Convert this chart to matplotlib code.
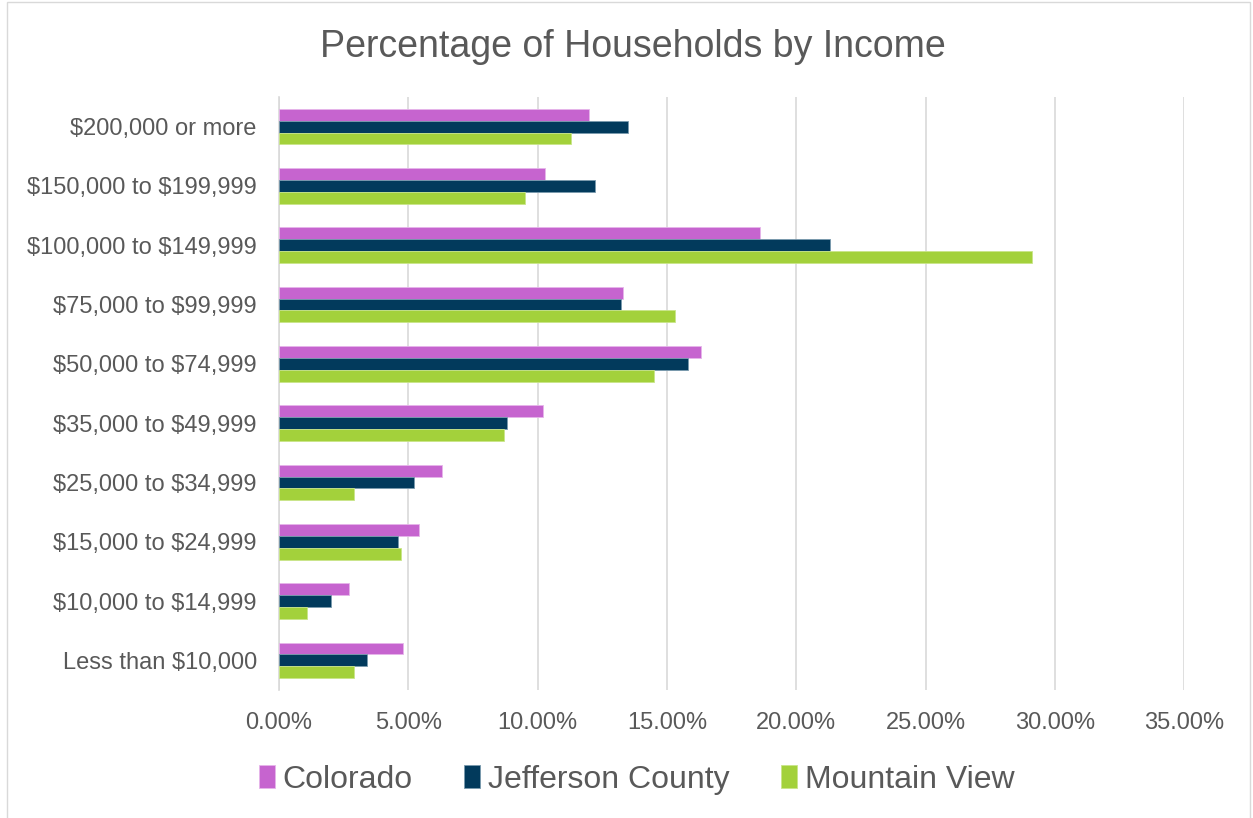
import numpy as np
import matplotlib
matplotlib.use('Agg')
import matplotlib.pyplot as plt
from matplotlib.patches import Rectangle

# Income brackets (bottom to top as drawn):
lstCat = ['Less than $10,000', '$10,000 to $14,999', '$15,000 to $24,999',
          '$25,000 to $34,999', '$35,000 to $49,999', '$50,000 to $74,999',
          '$75,000 to $99,999', '$100,000 to $149,999',
          '$150,000 to $199,999', '$200,000 or more']

# Percent of households per series:
vecColorado = [4.8, 2.7, 5.4, 6.3, 10.2, 16.3, 13.3, 18.6, 10.3, 12.0]
vecJefferson = [3.4, 2.0, 4.6, 5.2, 8.8, 15.8, 13.2, 21.3, 12.2, 13.5]
vecMtnView = [2.9, 1.1, 4.7, 2.9, 8.7, 14.5, 15.3, 29.1, 9.5, 11.3]

lstSeries = ['Colorado', 'Jefferson County', 'Mountain View']
lstClr = ['#C664CF', '#023A5C', '#A3D13B']
lstEdge = ['#E6B5EA', '#7A9AAE', '#C9E58A']

vecXtck = [0, 5, 10, 15, 20, 25, 30, 35]

plt.rcParams['font.family'] = ['Liberation Sans', 'DejaVu Sans']
plt.rcParams['text.parse_math'] = False
strTxtClr = '#595959'

fgr01 = plt.figure(figsize=(12.53, 8.18), dpi=100)
axs01 = fgr01.add_axes([0.2227, 0.1565, 0.7226, 0.7249])

# Figure frame:
fgr01.patches.append(Rectangle((0.0056, -0.01), 0.9920, 1.007,
                               transform=fgr01.transFigure,
                               facecolor='none', edgecolor='#D9D9D9',
                               linewidth=1.0))

vecY = np.arange(len(lstCat))
varBarH = 0.2
lstData = [vecColorado, vecJefferson, vecMtnView]
for idxSer in range(3):
    axs01.barh(vecY + (1 - idxSer) * varBarH, lstData[idxSer],
               height=varBarH, color=lstClr[idxSer],
               edgecolor=lstEdge[idxSer], linewidth=0.6,
               label=lstSeries[idxSer], zorder=3)

axs01.set_xlim(0, 35)
axs01.set_ylim(-0.5, len(lstCat) - 0.5)
axs01.set_xticks(vecXtck)
axs01.set_xticklabels(['{:0.2f}%'.format(v) for v in vecXtck])
axs01.set_yticks(vecY)
axs01.set_yticklabels(lstCat)

axs01.grid(axis='x', color='#D9D9D9', linewidth=1.2, zorder=0)
for strSpn in ['top', 'right', 'bottom']:
    axs01.spines[strSpn].set_visible(False)
axs01.spines['left'].set_color('#D9D9D9')
axs01.spines['left'].set_linewidth(1.2)

axs01.tick_params(axis='both', length=0, labelsize=17, colors=strTxtClr)
axs01.tick_params(axis='y', pad=16)
axs01.tick_params(axis='x', pad=16)

fgr01.text(0.505, 0.943, 'Percentage of Households by Income',
           ha='center', va='center', fontsize=27, color=strTxtClr)

objLgd = fgr01.legend(loc='center', bbox_to_anchor=(0.508, 0.047), ncol=3,
                      frameon=False, fontsize=23, handlelength=0.5,
                      handleheight=0.75, handletextpad=0.25,
                      columnspacing=1.6)
for objTxt in objLgd.get_texts():
    objTxt.set_color(strTxtClr)

fgr01.savefig('out.png', facecolor='w', dpi=100)
plt.close(fgr01)
